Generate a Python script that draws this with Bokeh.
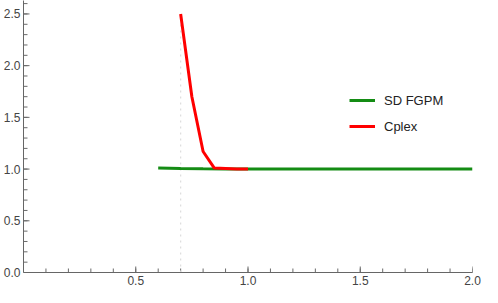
import math
from bokeh.plotting import figure
from bokeh.models import Range1d, Legend, LegendItem, FixedTicker, PrintfTickFormatter
from bokeh.embed import file_html
from bokeh.resources import INLINE

# data
sd_x = [0.6, 0.7, 0.8, 0.9, 1.0, 1.2, 1.4, 1.6, 1.8, 2.0]
sd_y = [1.01, 1.005, 1.002, 1.0, 1.0, 1.0, 1.0, 1.0, 1.0, 1.0]
cplex_x = [0.7, 0.75, 0.8, 0.85, 0.9, 0.95, 1.0]
cplex_y = [2.5, 1.70, 1.17, 1.01, 1.005, 1.0, 1.0]
marker_x = [0.7, 0.7]
marker_y = [0.0, 2.5]
x_major = [0.5, 1.0, 1.5, 2.0]
y_major = [0.0, 0.5, 1.0, 1.5, 2.0, 2.5]
x_minor = [round(0.1 * i, 1) for i in range(1, 21)]
y_minor = [round(0.1 * i, 1) for i in range(0, 27)]

p = figure(width=482, height=287, output_backend="svg", toolbar_location=None,
           x_range=Range1d(0, 2.0), y_range=Range1d(0, 2.63),
           min_border_left=20, min_border_right=10, min_border_top=0, min_border_bottom=10)
p.outline_line_color = None
p.grid.visible = False
p.background_fill_color = "white"

tick_col = "#6a6a6a"
# inward tick marks (clipped by the frame so only the inner half shows)
p.scatter(x_minor, [0] * len(x_minor), marker="dash", size=8, angle=math.pi / 2,
          line_color=tick_col, line_width=1)
p.scatter(x_major, [0] * len(x_major), marker="dash", size=12, angle=math.pi / 2,
          line_color=tick_col, line_width=1)
p.scatter([0] * len(y_minor), y_minor, marker="dash", size=8,
          line_color=tick_col, line_width=1)
p.scatter([0] * len(y_major), y_major, marker="dash", size=12,
          line_color=tick_col, line_width=1)

p.line(marker_x, marker_y, line_color="#dddddd", line_width=1.2, line_dash="2 4")
g = p.line(sd_x, sd_y, line_color="#148c14", line_width=3)
r = p.line(cplex_x, cplex_y, line_color="#ff0000", line_width=3)

for ax in (p.xaxis[0], p.yaxis[0]):
    ax.axis_line_color = "#666666"
    ax.axis_line_width = 1
    ax.major_tick_line_color = None
    ax.minor_tick_line_color = None
    ax.major_tick_in = 0
    ax.major_tick_out = 0
    ax.minor_tick_in = 0
    ax.minor_tick_out = 0
    ax.major_label_text_font = "Liberation Sans"
    ax.major_label_text_font_size = "12px"
    ax.major_label_text_color = "#444444"
    ax.major_label_standoff = 3
    ax.formatter = PrintfTickFormatter(format="%.1f")

p.xaxis[0].ticker = FixedTicker(ticks=x_major, minor_ticks=x_minor)
p.yaxis[0].ticker = FixedTicker(ticks=y_major, minor_ticks=y_minor)

legend = Legend(items=[LegendItem(label="SD FGPM", renderers=[g]),
                       LegendItem(label="Cplex", renderers=[r])],
                location=(326, 136), border_line_alpha=0, background_fill_alpha=0,
                glyph_width=26, glyph_height=20, label_height=20, spacing=6,
                label_standoff=9, padding=0, margin=0,
                label_text_font="Liberation Sans", label_text_font_size="13px",
                label_text_color="#222222")
p.add_layout(legend, "center")

open("out.html", "w").write(file_html(p, INLINE))
